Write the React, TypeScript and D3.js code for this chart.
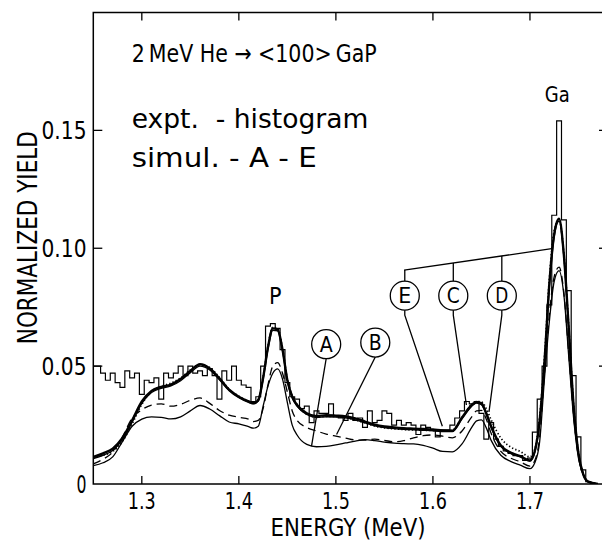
import React from "react"
import * as d3 from "d3"

// energy grid (MeV) shared by the simulated spectra
const energy = [
  1.25, 1.26, 1.27, 1.28, 1.29, 1.3, 1.31, 1.32, 1.33, 1.34,
  1.35, 1.36, 1.37, 1.38, 1.39, 1.4, 1.41, 1.415, 1.42, 1.425,
  1.43, 1.435, 1.44, 1.445, 1.45, 1.455, 1.46, 1.47, 1.48, 1.49,
  1.5, 1.51, 1.52, 1.53, 1.54, 1.55, 1.56, 1.57, 1.58, 1.59,
  1.6, 1.61, 1.62, 1.63, 1.64, 1.645, 1.65, 1.655, 1.66, 1.67,
  1.68, 1.69, 1.7, 1.705, 1.71, 1.715, 1.72, 1.725, 1.73, 1.735,
  1.74, 1.745, 1.75, 1.755, 1.76, 1.77,
]

const simA = [
  0.0078, 0.009, 0.0115, 0.018, 0.0245, 0.0275, 0.0285, 0.0283, 0.0276, 0.0285,
  0.031, 0.0333, 0.0318, 0.029, 0.0263, 0.0255, 0.0243, 0.0237, 0.0245, 0.033,
  0.0415, 0.047, 0.0488, 0.0445, 0.0345, 0.025, 0.0208, 0.0168, 0.0158, 0.016,
  0.0166, 0.0174, 0.0182, 0.0188, 0.0184, 0.0178, 0.0173, 0.0171, 0.017, 0.0164,
  0.0152, 0.0138, 0.0136, 0.017, 0.024, 0.0268, 0.0272, 0.0238, 0.0185, 0.0122,
  0.0096, 0.008, 0.0065, 0.009, 0.018, 0.045, 0.069, 0.086, 0.0905, 0.08,
  0.054, 0.028, 0.011, 0.004, 0.001, 0,
]
const simB = [
  0.0085, 0.0105, 0.0135, 0.02, 0.028, 0.0315, 0.0335, 0.034, 0.033, 0.0338,
  0.0355, 0.0365, 0.0342, 0.0312, 0.0292, 0.0283, 0.0275, 0.0265, 0.027, 0.032,
  0.042, 0.05, 0.0515, 0.047, 0.039, 0.031, 0.027, 0.024, 0.0225, 0.0212,
  0.0203, 0.0195, 0.0187, 0.0186, 0.019, 0.0185, 0.0179, 0.0184, 0.0196, 0.0205,
  0.0208, 0.0203, 0.0196, 0.0225, 0.0285, 0.031, 0.0312, 0.0275, 0.0215, 0.0138,
  0.011, 0.0094, 0.0076, 0.01, 0.02, 0.047, 0.072, 0.088, 0.092, 0.081,
  0.055, 0.029, 0.0115, 0.004, 0.001, 0,
]
const simC = [
  0.0108, 0.0122, 0.0142, 0.0188, 0.0262, 0.0342, 0.0388, 0.0406, 0.0416, 0.0438,
  0.0472, 0.05, 0.0484, 0.0442, 0.0396, 0.0366, 0.0346, 0.034, 0.0352, 0.0445,
  0.0572, 0.0652, 0.065, 0.0566, 0.0438, 0.0366, 0.033, 0.0295, 0.0282, 0.0285,
  0.0284, 0.0281, 0.0272, 0.0259, 0.0247, 0.0239, 0.0235, 0.0232, 0.023, 0.0228,
  0.0226, 0.0222, 0.0222, 0.0276, 0.033, 0.0343, 0.0336, 0.0296, 0.024, 0.016,
  0.013, 0.0115, 0.0097, 0.0135, 0.0262, 0.051, 0.0838, 0.105, 0.1115, 0.0962,
  0.0655, 0.0328, 0.0128, 0.004, 0.001, 0,
]
const simD = [
  0.0112, 0.0122, 0.0138, 0.018, 0.0255, 0.0338, 0.0392, 0.0414, 0.0428, 0.045,
  0.0484, 0.0506, 0.0494, 0.0452, 0.0402, 0.0372, 0.0352, 0.0346, 0.036, 0.0455,
  0.0585, 0.0665, 0.066, 0.0575, 0.0445, 0.0374, 0.0338, 0.0296, 0.0284, 0.0287,
  0.0286, 0.0282, 0.0272, 0.0259, 0.0246, 0.0238, 0.0234, 0.0231, 0.0229, 0.0228,
  0.0227, 0.0224, 0.0228, 0.0283, 0.0338, 0.035, 0.0348, 0.032, 0.0272, 0.0195,
  0.0157, 0.0138, 0.0115, 0.0148, 0.0285, 0.054, 0.087, 0.1075, 0.112, 0.0975,
  0.0665, 0.0335, 0.0132, 0.0042, 0.001, 0,
]
const simE = [
  0.0115, 0.013, 0.015, 0.0195, 0.027, 0.035, 0.0395, 0.0412, 0.0422, 0.0445,
  0.048, 0.0508, 0.049, 0.0448, 0.04, 0.037, 0.035, 0.0343, 0.0355, 0.045,
  0.058, 0.066, 0.0655, 0.057, 0.044, 0.037, 0.0335, 0.03, 0.0288, 0.0292,
  0.029, 0.0287, 0.0278, 0.0265, 0.0252, 0.0244, 0.024, 0.0237, 0.0235, 0.0233,
  0.0231, 0.0227, 0.0226, 0.0282, 0.0335, 0.0348, 0.0342, 0.03, 0.0245, 0.0163,
  0.0133, 0.0118, 0.01, 0.014, 0.027, 0.052, 0.085, 0.106, 0.1125, 0.097,
  0.066, 0.033, 0.013, 0.004, 0.001, 0,
]

// measured spectrum, bins of 5 keV starting at 1.250 MeV
const histStart = 1.25
const histWidth = 0.005
const histYield = [
  0.05, 0.05, 0.047, 0.044, 0.047, 0.043, 0.041, 0.048, 0.045, 0.047,
  0.038, 0.044, 0.043, 0.045, 0.036, 0.047, 0.045, 0.047, 0.05, 0.046,
  0.05, 0.047, 0.048, 0.046, 0.049, 0.046, 0.036, 0.048, 0.044, 0.05,
  0.044, 0.042, 0.041, 0.035, 0.037, 0.05, 0.067, 0.068, 0.066, 0.057,
  0.043, 0.037, 0.036, 0.032, 0.033, 0.026, 0.031, 0.03, 0.03, 0.034,
  0.029, 0.028, 0.027, 0.03, 0.027, 0.028, 0.024, 0.031, 0.026, 0.027,
  0.031, 0.03, 0.025, 0.027, 0.025, 0.026, 0.025, 0.021, 0.025, 0.024,
  0.023, 0.02, 0.023, 0.023, 0.025, 0.028, 0.031, 0.035, 0.034, 0.035,
  0.03, 0.019, 0.026, 0.019, 0.016, 0.014, 0.013, 0.012, 0.012, 0.01,
  0.011, 0.022, 0.036, 0.05, 0.076, 0.114, 0.154, 0.112, 0.082, 0.046,
  0.02, 0.006, 0.001,
]

const xTicks = [1.3, 1.4, 1.5, 1.6, 1.7]
const yTicks = [0, 0.05, 0.1, 0.15]
const yTickLabels = ["0", "0.05", "0.10", "0.15"]

// circled curve labels: circle centre and the point its leader touches
const markers = [
  { id: "A", e: 1.49, v: 0.0593, te: 1.4749, tv: 0.0161, knee: false },
  { id: "B", e: 1.5406, v: 0.06, te: 1.5007, tv: 0.021, knee: false },
  { id: "E", e: 1.571, v: 0.0799, te: 1.6097, tv: 0.0245, knee: true },
  { id: "C", e: 1.621, v: 0.0799, te: 1.6345, tv: 0.0335, knee: true },
  { id: "D", e: 1.671, v: 0.0799, te: 1.6578, tv: 0.0306, knee: true },
]
// line joining E, C, D up to the Ga peak
const busLine = [
  [1.5703, 0.0907],
  [1.7224, 0.0998],
]

const peakLabels = [
  { text: "P", e: 1.4374, v: 0.0763, size: 23, len: 0 },
  { text: "Ga", e: 1.7282, v: 0.1619, size: 21, len: 25 },
]

const font = "'DejaVu Sans Condensed', 'DejaVu Sans', sans-serif"

export default function App() {
  const left = 93.3
  const right = 607
  const top = 12.5
  const bottom = 484

  const x = d3.scaleLinear().domain([1.25, 1.7794]).range([left, right])
  const y = d3.scaleLinear().domain([0, 0.2]).range([bottom, top])

  const curve = (vals: number[]) =>
    d3
      .line<number>()
      .x((_, i) => x(energy[i]))
      .y((d) => y(d))
      .curve(d3.curveMonotoneX)(vals) as string

  const histPts: [number, number][] = []
  histPts.push([histStart - histWidth / 2, 0])
  histYield.forEach((v, i) => {
    const c = histStart + i * histWidth
    histPts.push([c - histWidth / 2, v])
    histPts.push([c + histWidth / 2, v])
  })
  histPts.push([histStart + (histYield.length - 0.5) * histWidth, 0])
  const histPath = d3
    .line<[number, number]>()
    .x((d) => x(d[0]))
    .y((d) => y(d[1]))(histPts) as string

  const r = 14.5
  const bx0 = x(busLine[0][0])
  const by0 = y(busLine[0][1])
  const bx1 = x(busLine[1][0])
  const by1 = y(busLine[1][1])
  const busY = (px: number) => by0 + ((px - bx0) / (bx1 - bx0)) * (by1 - by0)

  return (
    <svg
      width={602}
      height={542}
      style={{ position: "absolute", left: 0, top: 0, background: "#fff" }}
      fontFamily={font}
    >
      <defs>
        <clipPath id="plot">
          <rect x={left} y={top} width={right - left} height={bottom - top} />
        </clipPath>
      </defs>

      {/* frame */}
      <rect
        x={left}
        y={top}
        width={right - left}
        height={bottom - top}
        fill="none"
        stroke="#000"
        strokeWidth={1.5}
      />
      {xTicks.map((t) => (
        <g key={t}>
          <line x1={x(t)} x2={x(t)} y1={bottom} y2={bottom - 8} stroke="#000" strokeWidth={1.3} />
          <line x1={x(t)} x2={x(t)} y1={top} y2={top + 8} stroke="#000" strokeWidth={1.3} />
          <text x={x(t)} y={508.5} fontSize={23} textAnchor="middle" textLength={28} lengthAdjust="spacingAndGlyphs">
            {t.toFixed(1)}
          </text>
        </g>
      ))}
      {yTicks.map((t, i) => (
        <g key={t}>
          {t > 0 && <line x1={left} x2={left + 9} y1={y(t)} y2={y(t)} stroke="#000" strokeWidth={1.3} />}
          {t > 0 && <line x1={right - 8} x2={right} y1={y(t)} y2={y(t)} stroke="#000" strokeWidth={1.3} />}
          <text
            x={86.5}
            y={y(t) + 8.5}
            fontSize={25}
            textAnchor="end"
            textLength={t === 0 ? 10 : 45}
            lengthAdjust="spacingAndGlyphs"
          >
            {yTickLabels[i]}
          </text>
        </g>
      ))}

      <text x={348} y={536.2} fontSize={24} textAnchor="middle" textLength={155} lengthAdjust="spacingAndGlyphs">
        ENERGY (MeV)
      </text>
      <text
        transform="translate(36.5,237.7) rotate(-90)"
        fontSize={27}
        textAnchor="middle"
        textLength={213}
        lengthAdjust="spacingAndGlyphs"
      >
        NORMALIZED YIELD
      </text>

      {/* annotations in the plot */}
      <text x={131.7} y={61.7} fontSize={25} textLength={245} lengthAdjust="spacingAndGlyphs">
        {"2\u2009MeV He \u2192 <100>\u2009GaP"}
      </text>
      <text x={131.7} y={128.3} fontSize={27} textLength={236.6} lengthAdjust="spacingAndGlyphs" style={{ whiteSpace: "pre" }}>
        {"expt.  - histogram"}
      </text>
      <text x={131.7} y={166.7} fontSize={27} textLength={185} lengthAdjust="spacingAndGlyphs" style={{ whiteSpace: "pre" }}>
        {"simul. - A - E"}
      </text>
      {peakLabels.map((p) => (
        <text
          key={p.text}
          x={x(p.e)}
          y={y(p.v)}
          fontSize={p.size}
          textAnchor="middle"
          {...(p.len ? { textLength: p.len, lengthAdjust: "spacingAndGlyphs" } : {})}
        >
          {p.text}
        </text>
      ))}

      <g clipPath="url(#plot)" fill="none" stroke="#000">
        <path d={histPath} strokeWidth={1.2} />
        <path d={curve(simA)} strokeWidth={1.3} />
        <path d={curve(simB)} strokeWidth={1.3} strokeDasharray="8 5" />
        <path d={curve(simC)} strokeWidth={1.4} />
        <path d={curve(simD)} strokeWidth={1.7} strokeDasharray="1.3 2.2" />
        <path d={curve(simE)} strokeWidth={2.4} />
      </g>

      {/* circled labels and leader lines */}
      <g fill="none" stroke="#000" strokeWidth={1.3}>
        <line x1={bx0} y1={by0} x2={bx1} y2={by1} />
        {markers.map((m) => {
          const cx = x(m.e)
          const cy = y(m.v)
          const tx = x(m.te)
          const ty = y(m.tv)
          const kneeY = cy + r + 5
          return (
            <g key={m.id}>
              <circle cx={cx} cy={cy} r={r} />
              {m.knee ? (
                <>
                  <line x1={cx} y1={busY(cx)} x2={cx} y2={cy - r} />
                  <polyline points={`${cx},${cy + r} ${cx},${kneeY} ${tx},${ty}`} />
                </>
              ) : (
                <line x1={cx} y1={cy + r} x2={tx} y2={ty} />
              )}
            </g>
          )
        })}
      </g>
      {markers.map((m) => (
        <text
          key={m.id}
          x={x(m.e)}
          y={y(m.v) + 7.5}
          fontSize={21}
          textAnchor="middle"
          textLength={13}
          lengthAdjust="spacingAndGlyphs"
        >
          {m.id}
        </text>
      ))}
    </svg>
  )
}
